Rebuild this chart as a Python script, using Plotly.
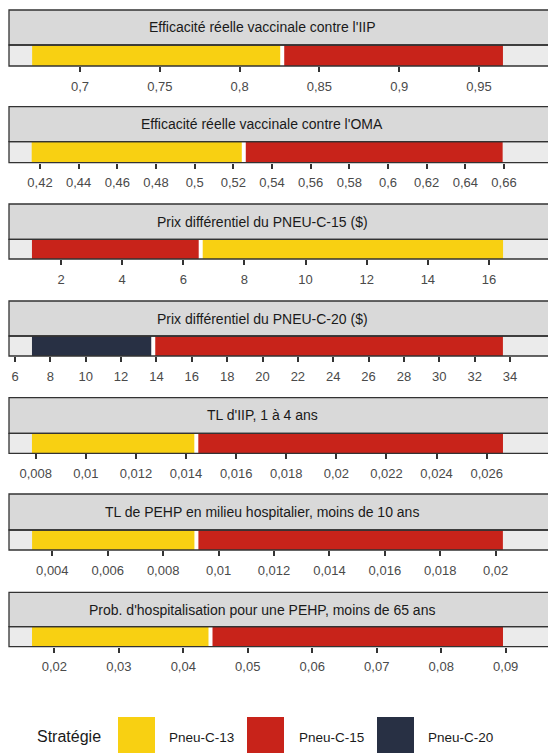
import plotly.graph_objects as go

W, H = 548, 753

titles = [
    "Efficacité réelle vaccinale contre l'IIP",
    "Efficacité réelle vaccinale contre l'OMA",
    "Prix différentiel du PNEU-C-15 ($)",
    "Prix différentiel du PNEU-C-20 ($)",
    "TL d'IIP, 1 à 4 ans",
    "TL de PEHP en milieu hospitalier, moins de 10 ans",
    "Prob. d'hospitalisation pour une PEHP, moins de 65 ans",
]
low_vals = [0.670, 0.4157, 1.05, 6.96, 0.00785, 0.00327, 0.01654]
split_vals = [0.8267, 0.5254, 6.57, 13.82, 0.01441, 0.00920, 0.04422]
high_vals = [0.965, 0.6593, 16.46, 33.6, 0.02665, 0.02026, 0.08958]
low_strategy = ["Pneu-C-13", "Pneu-C-13", "Pneu-C-15", "Pneu-C-20", "Pneu-C-13", "Pneu-C-13", "Pneu-C-13"]
high_strategy = ["Pneu-C-15", "Pneu-C-15", "Pneu-C-13", "Pneu-C-15", "Pneu-C-15", "Pneu-C-15", "Pneu-C-15"]

tick_values = [
    [0.7, 0.75, 0.8, 0.85, 0.9, 0.95],
    [0.42, 0.44, 0.46, 0.48, 0.5, 0.52, 0.54, 0.56, 0.58, 0.6, 0.62, 0.64, 0.66],
    [2, 4, 6, 8, 10, 12, 14, 16],
    [6, 8, 10, 12, 14, 16, 18, 20, 22, 24, 26, 28, 30, 32, 34],
    [0.008, 0.01, 0.012, 0.014, 0.016, 0.018, 0.02, 0.022, 0.024, 0.026],
    [0.004, 0.006, 0.008, 0.01, 0.012, 0.014, 0.016, 0.018, 0.02],
    [0.02, 0.03, 0.04, 0.05, 0.06, 0.07, 0.08, 0.09],
]
x_ranges = [
    [0.65551, 0.99323],
    [0.40396, 0.68276],
    [0.299, 17.93],
    [5.66, 36.15],
    [0.006934, 0.028447],
    [0.002437, 0.021888],
    [0.01297, 0.09656],
]

strategies = ["Pneu-C-13", "Pneu-C-15", "Pneu-C-20"]
colors = {"Pneu-C-13": "#F8D012", "Pneu-C-15": "#C8231A", "Pneu-C-20": "#283044"}

# layout in pixels
strip_top = [10, 106.7, 204, 301, 397.7, 494, 592.3]
strip_bot = [45, 141.7, 239.3, 336, 433.3, 530, 626.7]
panel_bot = [66, 162.7, 259, 356, 453.3, 550, 646.7]
x_left = 9

def py(p):
    return 1 - p / H

def px(p):
    return p / W

fig = go.Figure()
shapes = []
annotations = []

for i in range(len(titles)):
    n = "" if i == 0 else str(i + 1)
    xa, ya = "x" + n, "y" + n
    fig.add_trace(go.Bar(
        x=[split_vals[i] - low_vals[i]], base=[low_vals[i]], y=[0],
        orientation="h", width=1.4, marker=dict(color=colors[low_strategy[i]], line=dict(width=0)),
        xaxis=xa, yaxis=ya, showlegend=False, hoverinfo="skip"))
    fig.add_trace(go.Bar(
        x=[high_vals[i] - split_vals[i]], base=[split_vals[i]], y=[0],
        orientation="h", width=1.4, marker=dict(color=colors[high_strategy[i]], line=dict(width=0)),
        xaxis=xa, yaxis=ya, showlegend=False, hoverinfo="skip"))
    fig.add_trace(go.Scatter(
        x=[split_vals[i], split_vals[i]], y=[-1, 1], mode="lines",
        line=dict(color="white", width=4), xaxis=xa, yaxis=ya,
        showlegend=False, hoverinfo="skip"))

    xkey = "xaxis" + n
    ykey = "yaxis" + n
    fig.layout[xkey] = dict(
        domain=[px(x_left), 1], anchor=ya, range=x_ranges[i],
        tickmode="array", tickvals=tick_values[i],
        ticktext=[f"{v:g}".replace(".", ",") for v in tick_values[i]],
        ticks="outside", ticklen=5, tickwidth=1.6, tickcolor="#333333",
        showgrid=False, zeroline=False, showline=False,
        tickfont=dict(family="Liberation Sans, Arial, sans-serif", size=13, color="#4a4a4a"),
        ticklabelstandoff=3, fixedrange=True,
    )
    fig.layout[ykey] = dict(
        domain=[py(panel_bot[i]), py(strip_bot[i])], anchor=xa,
        range=[-0.5, 0.5], visible=False, fixedrange=True,
    )
    shapes.append(dict(type="rect", xref="paper", yref="paper",
                       x0=px(x_left), x1=1.02, y0=py(strip_bot[i]), y1=py(strip_top[i]),
                       fillcolor="#D9D9D9", line=dict(color="#333333", width=1.3), layer="above"))
    shapes.append(dict(type="rect", xref="paper", yref="paper",
                       x0=px(x_left), x1=1.02, y0=py(panel_bot[i]), y1=py(strip_bot[i]),
                       fillcolor="rgba(0,0,0,0)", line=dict(color="#333333", width=1.3), layer="above"))
    annotations.append(dict(
        text=titles[i], xref="paper", yref="paper", x=px(262),
        y=py((strip_top[i] + strip_bot[i]) / 2), xanchor="center", yanchor="middle",
        showarrow=False, font=dict(family="Liberation Sans, Arial, sans-serif", size=14, color="#1a1a1a")))

# legend drawn manually
legend_y0, legend_y1 = 717, 753
legend_sq_x = [118, 247, 377]
legend_txt_x = [167, 297, 426]
annotations.append(dict(
    text="Stratégie", xref="paper", yref="paper", x=px(35), y=py(736),
    xanchor="left", yanchor="middle", showarrow=False,
    font=dict(family="Liberation Sans, Arial, sans-serif", size=16, color="#1a1a1a")))
for k, s in enumerate(strategies):
    shapes.append(dict(type="rect", xref="paper", yref="paper",
                       x0=px(legend_sq_x[k]), x1=px(legend_sq_x[k] + 37),
                       y0=py(legend_y1), y1=py(legend_y0),
                       fillcolor=colors[s], line=dict(width=0)))
    annotations.append(dict(
        text=s, xref="paper", yref="paper", x=px(legend_txt_x[k]), y=py(737),
        xanchor="left", yanchor="middle", showarrow=False,
        font=dict(family="Liberation Sans, Arial, sans-serif", size=13.5, color="#1a1a1a")))

fig.update_layout(
    width=W, height=H, margin=dict(l=0, r=0, t=0, b=0),
    paper_bgcolor="white", plot_bgcolor="#EBEBEB",
    barmode="overlay", shapes=shapes, annotations=annotations,
    showlegend=False,
)

fig.write_html("out.html", config={"displayModeBar": False})
